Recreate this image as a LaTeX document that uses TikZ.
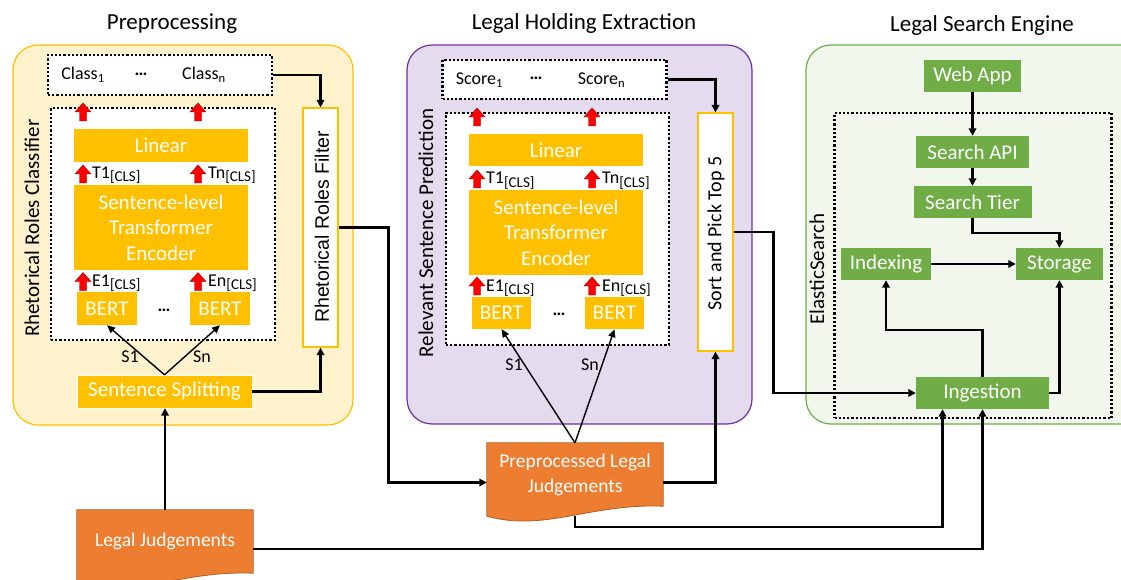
\documentclass[tikz,border=0pt]{standalone}
\usepackage{fontspec}
\setmainfont{Carlito}
\newfontfamily\arialfont{Liberation Sans}
\usetikzlibrary{arrows.meta,backgrounds}

\definecolor{prepfill}{HTML}{FFF2CC}
\definecolor{prepline}{HTML}{FFC000}
\definecolor{boxyellow}{HTML}{FFC000}
\definecolor{holdfill}{HTML}{E4DBEE}
\definecolor{holdline}{HTML}{7030A0}
\definecolor{searchfill}{HTML}{F2F7EE}
\definecolor{searchline}{HTML}{70AD47}
\definecolor{boxgreen}{HTML}{70AD47}
\definecolor{docorange}{HTML}{ED7D31}
\definecolor{docline}{HTML}{B0601F}

\newcommand\clstag[2]{#1#2\raisebox{-0.35ex}{\fontsize{15}{15}\selectfont[CLS]}}

\tikzset{
    panel/.style={rounded corners=25pt, line width=1.2pt},
    title/.style={font=\fontsize{23}{27}\selectfont},
    dotbox/.style={draw=black, fill=white, inner sep=0pt, line width=2.2pt, dash pattern=on 2.2pt off 2pt},
    ybox/.style={fill=boxyellow, text=white, inner sep=0pt, align=center, font=\fontsize{21}{25.5}\selectfont},
    gbox/.style={fill=boxgreen, text=white, inner sep=0pt, minimum height=32pt, font=\fontsize{21}{25}\selectfont},
    sidebox/.style={draw=boxyellow, fill=white, line width=1.2pt, inner sep=0pt, minimum width=35pt},
    sidelabel/.style={rotate=90, inner sep=0pt, font=\fontsize{21}{25}\selectfont},
    small/.style={inner sep=0pt, font=\fontsize{18}{20}\selectfont},
    doc/.style={text=white, inner sep=0pt, align=center, minimum width=176pt, minimum height=63pt, font=\fontsize{19.5}{25}\selectfont},
    docshape/.style={draw=docline, fill=docorange, line width=0.8pt},
    conn/.style={line width=2.4pt, -{Triangle[length=7.5pt,width=7.5pt]}},
    thinconn/.style={line width=1.4pt, -{Triangle[length=8pt,width=7pt]}},
    redup/.pic={\filldraw[fill=red, draw=red!55!black, line width=0.4pt]
        (-3.5,9) -- (-3.5,0) -- (-8,0) -- (0,-9) -- (8,0) -- (3.5,0) -- (3.5,9) -- cycle;}
}

\begin{document}
\begin{tikzpicture}[x=1pt, y=-1pt]
    \useasboundingbox (0,0) rectangle (1121,580);

    % panels
    \draw[panel, draw=prepline, fill=prepfill] (13,45) rectangle (353,425);
    \draw[panel, draw=holdline, fill=holdfill] (407,45) rectangle (752,424);
    \draw[panel, draw=searchline, fill=searchfill] (806,45) rectangle (1170,424);
    \node[title] (preptitle) at (172,24) {Preprocessing};
    \node[title] (holdtitle) at (584,23) {Legal Holding Extraction};
    \node[title] (searchtitle) at (982,25) {Legal Search Engine};

    % preprocessing
    \node[dotbox, minimum width=224pt, minimum height=40pt] (classes) at (160,75) {};
    \node[small] (classa) at (83,75) {Class\textsubscript{1}};
    \node[small] (classdots) at (141,74) {\textbf{\dots}};
    \node[small] (classb) at (204,75) {Class\textsubscript{n}};
    \node[dotbox, minimum width=224pt, minimum height=232pt] (rrcbox) at (163,224) {};
    \node[ybox, minimum width=174pt, minimum height=33pt] (linearA) at (161,145.5) {Linear};
    \node[ybox, minimum width=174pt, minimum height=85pt] (encA) at (161,227.5) {Sentence-level\\Transformer\\Encoder};
    \node[ybox, minimum width=60pt, minimum height=33pt] (bertA) at (107,308.5) {BERT};
    \node[ybox, minimum width=60pt, minimum height=33pt] (bertB) at (220,308.5) {BERT};
    \node[small] (bertdotsA) at (164,310) {\textbf{\dots}};
    \node[ybox, draw=white, minimum width=175pt, minimum height=33pt] (split) at (164.5,391.5) {Sentence Splitting};
    \node[sidebox, minimum height=239pt] (filter) at (320.5,227.5) {};
    \node[sidelabel, font=\arialfont\fontsize{19.5}{22}\selectfont] (filtertext) at (322,227) {Rhetorical Roles Filter};
    \node[sidelabel] (rrclabel) at (32,228) {Rhetorical Roles Classifier};
    \pic at (83,112) {redup};
    \pic at (198,112) {redup};
    \pic at (83,174) {redup};
    \pic at (198,174) {redup};
    \pic at (83,281.5) {redup};
    \pic at (198,281.5) {redup};
    \node[small, anchor=base west] (tA) at (92,178.5) {\clstag{T}{1}};
    \node[small, anchor=base west] (tB) at (208,178.5) {\clstag{T}{n}};
    \node[small, anchor=base west] (eA) at (92,286.5) {\clstag{E}{1}};
    \node[small, anchor=base west] (eB) at (208,286.5) {\clstag{E}{n}};
    \node[small] (sA) at (130,357) {S1};
    \node[small] (sB) at (202,357) {Sn};

    % legal holding extraction
    \node[dotbox, minimum width=224pt, minimum height=39pt] (scores) at (554.5,79.5) {};
    \node[small] (scorea) at (479.5,80) {Score\textsubscript{1}};
    \node[small] (scoredots) at (536,78) {\textbf{\dots}};
    \node[small] (scoreb) at (601.5,80) {Score\textsubscript{n}};
    \node[dotbox, minimum width=223pt, minimum height=232pt] (rspbox) at (557.5,229) {};
    \node[ybox, minimum width=174pt, minimum height=32pt] (linearB) at (556,150) {Linear};
    \node[ybox, minimum width=174pt, minimum height=85pt] (encB) at (556,232.5) {Sentence-level\\Transformer\\Encoder};
    \node[ybox, minimum width=59pt, minimum height=32pt] (bertC) at (501.5,313) {BERT};
    \node[ybox, minimum width=59pt, minimum height=32pt] (bertD) at (614.5,313) {BERT};
    \node[small] (bertdotsB) at (559,314) {\textbf{\dots}};
    \node[sidebox, minimum height=238pt] (sort) at (715.5,232) {};
    \node[sidelabel, font=\fontsize{20}{24}\selectfont] (sorttext) at (716,233.5) {Sort and Pick Top 5};
    \node[sidelabel] (rsplabel) at (426,233) {Relevant Sentence Prediction};
    \pic at (477,117) {redup};
    \pic at (592,117) {redup};
    \pic at (477,179) {redup};
    \pic at (592,179) {redup};
    \pic at (477,286) {redup};
    \pic at (592,286) {redup};
    \node[small, anchor=base west] (tC) at (486,184) {\clstag{T}{1}};
    \node[small, anchor=base west] (tD) at (602,184) {\clstag{T}{n}};
    \node[small, anchor=base west] (eC) at (486,291) {\clstag{E}{1}};
    \node[small, anchor=base west] (eD) at (602,291) {\clstag{E}{n}};
    \node[small] (sC) at (514,365) {S1};
    \node[small] (sD) at (590,365) {Sn};

    % legal search engine
    \node[dotbox, fill=none, minimum width=277pt, minimum height=305pt] (elastic) at (973,265.5) {};
    \node[sidelabel] (elasticlabel) at (817,269) {ElasticSearch};
    \node[gbox, minimum width=97pt] (webapp) at (972.5,76) {Web App};
    \node[gbox, minimum width=113pt] (searchapi) at (972.5,152) {Search API};
    \node[gbox, minimum width=118pt] (searchtier) at (972.5,202) {Search Tier};
    \node[gbox, minimum width=90pt] (indexing) at (886,264) {Indexing};
    \node[gbox, minimum width=87pt] (storage) at (1059.5,264) {Storage};
    \node[gbox, minimum width=133pt] (ingest) at (982.5,393) {Ingestion};

    % documents
    \node[doc] (ppj) at (575,474.5) {Preprocessed Legal\\Judgements};
    \node[doc] (lj) at (165,541.5) {Legal Judgements};
    \begin{scope}[on background layer]
        \draw[docshape] (ppj.north west) -- (ppj.north east) -- (ppj.south east)
            .. controls +(-73,-3) and +(58,16) .. ([yshift=-10pt]ppj.south west) -- cycle;
        \draw[docshape] (lj.north west) -- (lj.north east) -- (lj.south east)
            .. controls +(-73,-3) and +(58,16) .. ([yshift=-10pt]lj.south west) -- cycle;
    \end{scope}

    % connectors
    \draw[conn] (classes.east) -| (filter.north);
    \draw[conn] (split.east) -| (filter.south);
    \draw[conn] (lj.north) -- (lj.north |- split.south);
    \draw[thinconn] (split.north) -- (bertA.south);
    \draw[thinconn] (split.north) -- (bertB.south);
    \draw[conn] (filter.east) -- ++(50,0) |- ([yshift=-8pt]ppj.west);
    \draw[thinconn] (ppj.north) -- (bertC.south);
    \draw[thinconn] (ppj.north) -- (bertD.south);
    \draw[conn] ([yshift=-8pt]ppj.east) -| (sort.south);
    \draw[conn] (scores.east) -| (sort.north);
    \draw[conn] (sort.east) -- ++(40,0) |- (ingest.west);
    \draw[conn] ([yshift=-10pt]ppj.south) -- ++(0,11) -| ([xshift=-40pt]ingest.south);
    \draw[conn] ([yshift=-7.5pt]lj.east) -| (ingest.south);
    \draw[conn] (webapp.south) -- (searchapi.north);
    \draw[conn] (searchapi.south) -- (searchtier.north);
    \draw[conn] (searchtier.south) -- ++(0,15) -| (storage.north);
    \draw[conn] (indexing.east) -- (storage.west);
    \draw[conn] (ingest.north) -- ++(0,-47) -| (indexing.south);
    \draw[conn] (ingest.east) -| (storage.south);
\end{tikzpicture}
\end{document}
